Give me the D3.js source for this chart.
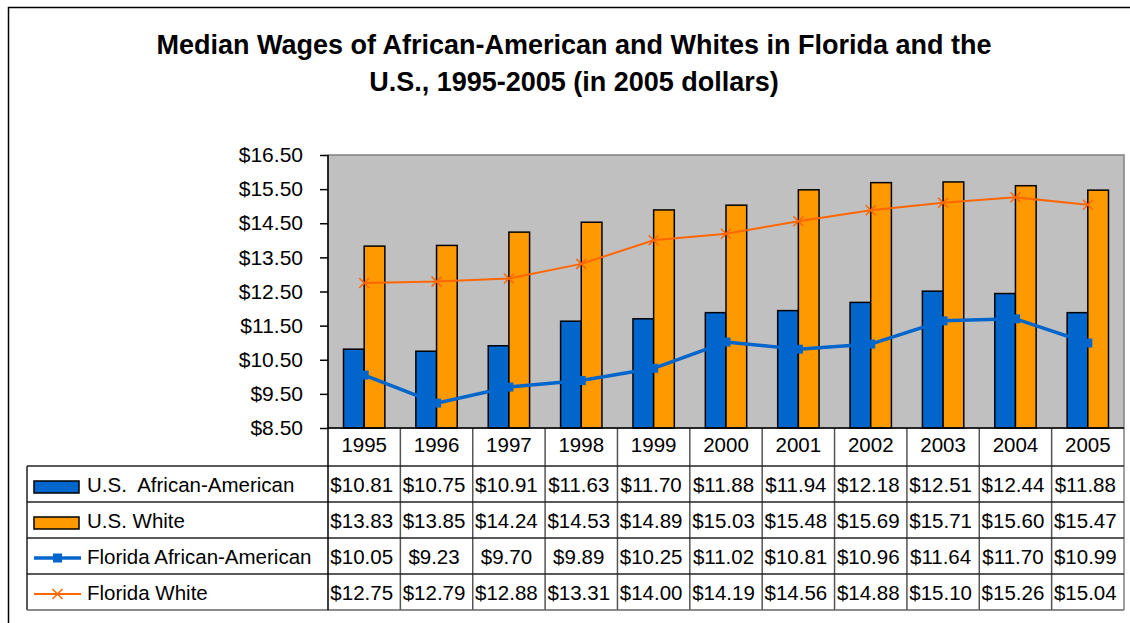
<!DOCTYPE html>
<html>
<head>
<meta charset="utf-8">
<script src="https://cdn.jsdelivr.net/npm/d3@7"></script>
<style>
  body { margin: 0; background: #fff; }
  svg { display: block; font-family: "Liberation Sans", Arial, sans-serif; }
</style>
</head>
<body>
<div id="chart"></div>
<script>
// datos
const years = ["1995", "1996", "1997", "1998", "1999", "2000", "2001", "2002", "2003", "2004", "2005"];
const usAfricanAmerican = [10.81, 10.75, 10.91, 11.63, 11.70, 11.88, 11.94, 12.18, 12.51, 12.44, 11.88];
const usWhite = [13.83, 13.85, 14.24, 14.53, 14.89, 15.03, 15.48, 15.69, 15.71, 15.60, 15.47];
const flAfricanAmerican = [10.05, 9.23, 9.70, 9.89, 10.25, 11.02, 10.81, 10.96, 11.64, 11.70, 10.99];
const flWhite = [12.75, 12.79, 12.88, 13.31, 14.00, 14.19, 14.56, 14.88, 15.10, 15.26, 15.04];
const yTicks = [8.5, 9.5, 10.5, 11.5, 12.5, 13.5, 14.5, 15.5, 16.5];
const titleLines = ["Median Wages of African-American and Whites in Florida and the",
                    "U.S., 1995-2005 (in 2005 dollars)"];

const series = [
  { name: "U.S.  African-American", values: usAfricanAmerican, kind: "bar", color: "#0066cc" },
  { name: "U.S. White", values: usWhite, kind: "bar", color: "#ff9900" },
  { name: "Florida African-American", values: flAfricanAmerican, kind: "square", color: "#0066cc" },
  { name: "Florida White", values: flWhite, kind: "cross", color: "#ff6600" }
];

const W = 1130, H = 623;
const plot = { left: 328, right: 1124, top: 155, bottom: 428 };
const table = { left: 27, headerBottom: 466, rowH: 36 };
const fmt = v => "$" + v.toFixed(2);

const svg = d3.select("#chart").append("svg").attr("width", W).attr("height", H);

// marco exterior
svg.append("rect").attr("x", 8.5).attr("y", 7.5).attr("width", W + 20).attr("height", H + 20)
  .attr("fill", "none").attr("stroke", "#000").attr("stroke-width", 1.5);

// título
svg.append("g").selectAll("text").data(titleLines).join("text")
  .attr("x", 574).attr("y", (d, i) => 54 + i * 37)
  .attr("text-anchor", "middle").attr("font-weight", "bold").attr("font-size", 27)
  .text(d => d);

const x = d3.scaleBand().domain(years).range([plot.left, plot.right]).padding(0);
const xSub = d3.scaleBand().domain([0, 1]).range([0, x.bandwidth()]).paddingOuter(0.75).paddingInner(0);
const y = d3.scaleLinear().domain([8.5, 16.5]).range([plot.bottom, plot.top]);

// área del gráfico
svg.append("rect").attr("x", plot.left).attr("y", plot.top)
  .attr("width", plot.right - plot.left).attr("height", plot.bottom - plot.top)
  .attr("fill", "#c0c0c0").attr("stroke", "#808080").attr("stroke-width", 1.5);

// barras
series.filter(s => s.kind === "bar").forEach((s, si) => {
  svg.append("g").selectAll("rect").data(s.values).join("rect")
    .attr("x", (d, i) => x(years[i]) + xSub(si))
    .attr("y", d => y(d))
    .attr("width", xSub.bandwidth())
    .attr("height", d => y(8.5) - y(d))
    .attr("fill", s.color).attr("stroke", "#000").attr("stroke-width", 1.5);
});

const cx = i => x(years[i]) + x.bandwidth() / 2;

function drawMarker(g, kind, color, px, py) {
  if (kind === "square") {
    g.append("rect").attr("x", px - 4.5).attr("y", py - 4.5).attr("width", 9).attr("height", 9)
      .attr("fill", color);
  } else if (kind === "cross") {
    const r = 5;
    g.append("path").attr("d", `M${px - r},${py - r}L${px + r},${py + r}M${px - r},${py + r}L${px + r},${py - r}`)
      .attr("stroke", color).attr("stroke-width", 1.5).attr("fill", "none");
  }
}

// líneas
series.filter(s => s.kind !== "bar").forEach(s => {
  const line = d3.line().x((d, i) => cx(i)).y(d => y(d));
  const g = svg.append("g");
  g.append("path").datum(s.values).attr("d", line).attr("fill", "none")
    .attr("stroke", s.color).attr("stroke-width", s.kind === "square" ? 3.5 : 2);
  s.values.forEach((v, i) => drawMarker(g, s.kind, s.color, cx(i), y(v)));
});

// eje y
const yAxis = svg.append("g").attr("transform", `translate(${plot.left},0)`)
  .call(d3.axisLeft(y).tickValues(yTicks).tickFormat(fmt).tickSize(8).tickSizeOuter(0).tickPadding(17));
yAxis.select(".domain").remove();
yAxis.selectAll("line").attr("stroke", "#000").attr("stroke-width", 1.5);
yAxis.selectAll("text").attr("font-size", 21).attr("fill", "#000")
  .attr("font-family", "'Liberation Sans', Arial, sans-serif");

// tabla de datos
const tableBottom = table.headerBottom + series.length * table.rowH;
const tg = svg.append("g");
const lineColor = "#222";

// encabezado con años
tg.selectAll("text.year").data(years).join("text").attr("class", "year")
  .attr("x", d => x(d) + x.bandwidth() / 2).attr("y", 452)
  .attr("text-anchor", "middle").attr("font-size", 20.5).text(d => d);

// líneas verticales
tg.selectAll("line.v").data(years.slice(1).concat(["end"])).join("line").attr("class", "v")
  .attr("x1", d => d === "end" ? plot.right : x(d)).attr("x2", d => d === "end" ? plot.right : x(d))
  .attr("y1", plot.bottom).attr("y2", tableBottom)
  .attr("stroke", d => d === "end" ? "#808080" : "#555").attr("stroke-width", 1.5);
tg.append("line").attr("x1", table.left).attr("x2", table.left)
  .attr("y1", table.headerBottom).attr("y2", tableBottom).attr("stroke", lineColor).attr("stroke-width", 1.5);

// líneas horizontales
d3.range(series.length + 1).forEach(r => {
  const yy = table.headerBottom + r * table.rowH;
  tg.append("line").attr("x1", table.left).attr("x2", plot.right).attr("y1", yy).attr("y2", yy)
    .attr("stroke", r === series.length ? "#666" : lineColor).attr("stroke-width", 1.5);
});

// eje izquierdo y base del gráfico
svg.append("line").attr("x1", plot.left).attr("x2", plot.left).attr("y1", plot.top).attr("y2", tableBottom)
  .attr("stroke", "#000").attr("stroke-width", 1.5);
svg.append("line").attr("x1", plot.left).attr("x2", plot.right).attr("y1", plot.bottom).attr("y2", plot.bottom)
  .attr("stroke", "#000").attr("stroke-width", 1.5);

// filas: leyenda + valores
series.forEach((s, r) => {
  const mid = table.headerBottom + r * table.rowH + table.rowH / 2;
  const row = tg.append("g");
  if (s.kind === "bar") {
    row.append("rect").attr("x", 34).attr("y", mid - 3).attr("width", 45).attr("height", 12)
      .attr("fill", s.color).attr("stroke", "#000").attr("stroke-width", 1.5);
  } else {
    row.append("line").attr("x1", 34).attr("x2", 81).attr("y1", mid + 2).attr("y2", mid + 2)
      .attr("stroke", s.color).attr("stroke-width", s.kind === "square" ? 3.5 : 2);
    drawMarker(row, s.kind, s.color, 57.5, mid + 2);
  }
  row.append("text").attr("x", 87).attr("y", mid + 8).attr("font-size", 20.5)
    .style("white-space", "pre").text(s.name);
  row.selectAll("text.val").data(s.values).join("text").attr("class", "val")
    .attr("x", (d, i) => x(years[i]) + x.bandwidth() / 2 - 2.5).attr("y", mid + 8)
    .attr("text-anchor", "middle").attr("font-size", 20.5).text(fmt);
});
</script>
</body>
</html>
